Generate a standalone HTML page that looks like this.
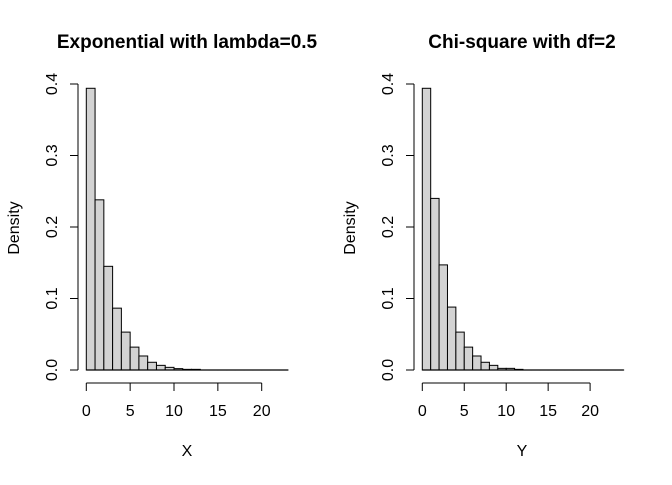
<!DOCTYPE html>
<html><head><meta charset="utf-8"><style>
html,body{margin:0;padding:0;background:#fff}
svg text{font-family:"Liberation Sans",Arial,sans-serif;fill:#000}
</style></head><body>
<svg id="c" width="672" height="480" xmlns="http://www.w3.org/2000/svg"></svg>
<script>
const expBreaks = [0,1,2,3,4,5,6,7,8,9,10,11,12,13,14,15,16,17,18,19,20,21,22,23];
const expDensity = [0.394,0.238,0.145,0.0865,0.053,0.032,0.0196,0.0108,0.0065,0.0037,0.0019,0.0009,0.0009,0,0,0,0,0,0,0,0,0,0];
const chiBreaks = [0,1,2,3,4,5,6,7,8,9,10,11,12,13,14,15,16,17,18,19,20,21,22,23,24];
const chiDensity = [0.394,0.240,0.147,0.088,0.053,0.032,0.0196,0.0108,0.0065,0.0023,0.0023,0.0009,0,0,0,0,0,0,0,0,0,0,0,0];
const yTicks = [0.0,0.1,0.2,0.3,0.4];
const yTickLabels = ["0.0","0.1","0.2","0.3","0.4"];
const xTicks = [0,5,10,15,20];
const titles = ["Exponential with lambda=0.5","Chi-square with df=2"];
const xTitles = ["X","Y"];

const svg=document.getElementById('c');
const NS="http://www.w3.org/2000/svg";
function mk(tag,attrs,parent){const e=document.createElementNS(NS,tag);for(const k in attrs)e.setAttribute(k,attrs[k]);(parent||svg).appendChild(e);return e;}

const panels=[
 {x0:86.3,sx:8.77,yAxisX:78,breaks:expBreaks,dens:expDensity,cx:187,name:'exponential'},
 {x0:422.3,sx:8.39,yAxisX:414,breaks:chiBreaks,dens:chiDensity,cx:522,name:'chi-square'}
];
const y0=370, sy=715;
panels.forEach((p,i)=>{
 const g=mk('g',{});
 
 
 const X=v=>p.x0+v*p.sx, Y=v=>y0-v*sy;
 const t=mk('text',{x:p.cx,y:48,'text-anchor':'middle','font-size':'19','font-weight':'bold'},g);
 t.textContent=titles[i];
 
 
 for(let k=0;k<p.dens.length;k++){
  const r=mk('rect',{x:X(p.breaks[k]),y:Y(p.dens[k]),width:X(p.breaks[k+1])-X(p.breaks[k]),height:Math.max(0.01,y0-Y(p.dens[k])),fill:'#d3d3d3',stroke:'#000','stroke-width':'1'},g);
  
  
 }
 const bl=mk('line',{x1:X(p.breaks[0]),x2:X(p.breaks[p.breaks.length-1]),y1:y0,y2:y0,stroke:'#000','stroke-width':'1.3'},g);
 
 
 const ya=mk('g',{},g);
 
 
 mk('line',{x1:p.yAxisX,x2:p.yAxisX,y1:Y(0),y2:Y(0.4),stroke:'#000'},ya);
 yTicks.forEach((v,j)=>{
  mk('line',{x1:p.yAxisX-8,x2:p.yAxisX,y1:Y(v),y2:Y(v),stroke:'#000'},ya);
  const tx=p.yAxisX-21;
  const l=mk('text',{x:tx,y:Y(v),'text-anchor':'middle','font-size':'16',transform:`rotate(-90 ${tx} ${Y(v)})`},ya);
  l.textContent=yTickLabels[j];
 });
 const yl=mk('text',{x:p.yAxisX-59,y:228,'text-anchor':'middle','font-size':'16',transform:`rotate(-90 ${p.yAxisX-59} 228)`},g);
 yl.textContent='Density';
 
 
 const xa=mk('g',{},g);
 
 
 mk('line',{x1:X(0),x2:X(20),y1:383,y2:383,stroke:'#000'},xa);
 xTicks.forEach(v=>{
  mk('line',{x1:X(v),x2:X(v),y1:383,y2:391,stroke:'#000'},xa);
  const l=mk('text',{x:X(v),y:416,'text-anchor':'middle','font-size':'16'},xa);
  l.textContent=String(v);
 });
 const xl=mk('text',{x:p.cx,y:456,'text-anchor':'middle','font-size':'16'},g);
 xl.textContent=xTitles[i];
 
 
});
</script>
</body></html>
